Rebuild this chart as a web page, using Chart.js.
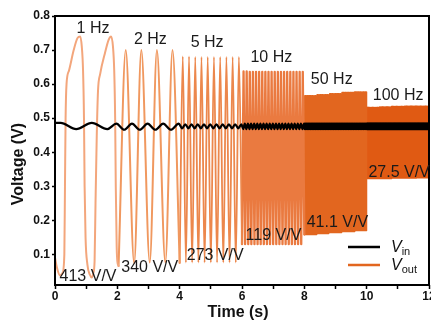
<!DOCTYPE html>
<html><head><meta charset="utf-8">
<script src="https://cdn.jsdelivr.net/npm/chart.js@4.4.1/dist/chart.umd.min.js"></script>
<style>html,body{margin:0;padding:0;background:#fff;}canvas{display:block}</style>
</head><body>
<canvas id="c" width="431" height="324"></canvas>
<script>
// ---------- data ----------
const segStart = [0, 2, 4, 6, 8, 10];
const segEnd   = [2, 4, 6, 8, 10, 12];
const segFreq  = [1, 2, 5, 10, 50, 100];
const freqLabels = ['1 Hz', '2 Hz', '5 Hz', '10 Hz', '50 Hz', '100 Hz'];
const gainLabels = ['413 V/V', '340 V/V', '273 V/V', '119 V/V', '41.1 V/V', '27.5 V/V'];
const xTickValues = [0,1,2,3,4,5,6,7,8,9,10,11,12];
const xTickLabels = ['0','','2','','4','','6','','8','','10','','12'];
const yTickValues = [0.1,0.2,0.3,0.4,0.5,0.6,0.7,0.8];
const yTickLabels = ['0.1','0.2','0.3','0.4','0.5','0.6','0.7','0.8'];

// Vout, 1 Hz section, point by point
const vout1HzTime = [0, 0.06, 0.16, 0.24, 0.3, 0.32, 0.34, 0.37, 0.45, 0.6, 0.72, 0.81, 0.86, 0.9, 0.93, 0.95, 0.98, 1.04, 1.12, 1.18, 1.23, 1.27, 1.3, 1.34, 1.38, 1.45, 1.6, 1.72, 1.8, 1.86, 1.9, 1.93, 1.95, 1.98, 2.0];
const vout1HzVolt = [0.09, 0.062, 0.038, 0.045, 0.1, 0.3, 0.5, 0.6, 0.64, 0.7, 0.735, 0.74, 0.71, 0.64, 0.5, 0.3, 0.15, 0.07, 0.04, 0.032, 0.045, 0.08, 0.25, 0.45, 0.58, 0.63, 0.69, 0.73, 0.74, 0.71, 0.64, 0.5, 0.3, 0.12, 0.08];

// Vout, faster sections: time of first peak / trough and the peak / trough levels
const voutFirstPeak   = [null, 2.27, 4.1, 6.05, 8.01, 10.005];
const voutFirstTrough = [null, 2.04, 4.0, 6.0, 8.0, 10.0];
const vout2HzPeak    = [0.70, 0.70, 0.70, 0.70];
const vout2HzTrough  = [0.066, 0.074, 0.076, 0.076];
const vout5HzPeak    = [0.681, 0.681, 0.68, 0.68, 0.68, 0.68, 0.68, 0.68, 0.68, 0.68];
const vout5HzTrough  = [0.075, 0.076, 0.076, 0.076, 0.076, 0.076, 0.076, 0.076, 0.076, 0.076];
const vout10HzPeak   = [0.637, 0.637, 0.636, 0.636, 0.636, 0.636, 0.636, 0.636, 0.636, 0.636, 0.636, 0.636, 0.636, 0.636, 0.636, 0.636, 0.636, 0.636, 0.636, 0.636];
const vout10HzTrough = [0.13, 0.13, 0.13, 0.13, 0.13, 0.13, 0.13, 0.13, 0.13, 0.13, 0.13, 0.13, 0.13, 0.13, 0.13, 0.13, 0.13, 0.13, 0.13, 0.13];
const vout50HzPeak   = [0.566, 0.569, 0.572, 0.575, 0.577];
const vout50HzTrough = [0.158, 0.161, 0.164, 0.167, 0.170];
const vout100HzPeak  = [0.531, 0.533, 0.534, 0.535, 0.535];
const vout100HzTrough= [0.323, 0.323, 0.324, 0.324, 0.325];

// Vin: start value, time of first peak / trough, peak / trough level per section
const vinStart       = 0.486;
const vinFirstPeak   = [0.18, 1.97, 4.18, 6.09, 8.018, 10.009];
const vinFirstTrough = [0.68, 2.22, 4.08, 6.04, 8.008, 10.004];
const vinPeak        = [0.486, 0.484, 0.482, 0.484, 0.484, 0.484];
const vinTrough      = [0.468, 0.466, 0.470, 0.468, 0.468, 0.468];

// ---------- build library data ----------
const voutPeakLv   = [null, vout2HzPeak, vout5HzPeak, vout10HzPeak, vout50HzPeak, vout100HzPeak];
const voutTroughLv = [null, vout2HzTrough, vout5HzTrough, vout10HzTrough, vout50HzTrough, vout100HzTrough];

function levelAt(levels, t, i) {
  const n = levels.length;
  const k = Math.floor((t - segStart[i]) / (segEnd[i] - segStart[i]) * n);
  return levels[Math.min(Math.max(k, 0), n - 1)];
}
function extremaPoints(i, firstPeak, firstTrough, peakLv, troughLv) {
  const pts = [];
  const per = 1 / segFreq[i];
  for (let k = 0; firstPeak + k * per < segEnd[i] - 1e-9; k++) {
    const t = firstPeak + k * per;
    pts.push({ x: t, y: Array.isArray(peakLv) ? levelAt(peakLv, t, i) : peakLv });
  }
  for (let k = 0; firstTrough + k * per < segEnd[i] - 1e-9; k++) {
    const t = firstTrough + k * per;
    pts.push({ x: t, y: Array.isArray(troughLv) ? levelAt(troughLv, t, i) : troughLv });
  }
  pts.sort((a, b) => a.x - b.x);
  return pts;
}

const voutSegs = [];
voutSegs.push(vout1HzTime.map((t, j) => ({ x: t, y: vout1HzVolt[j] })));
for (let i = 1; i < segFreq.length; i++) {
  voutSegs.push(extremaPoints(i, voutFirstPeak[i], voutFirstTrough[i], voutPeakLv[i], voutTroughLv[i]));
}
// connect each section to the next one
for (let i = 0; i < voutSegs.length - 1; i++) voutSegs[i].push(voutSegs[i + 1][0]);

let vinPts = [{ x: 0, y: vinStart }];
for (let i = 0; i < segFreq.length; i++) {
  vinPts = vinPts.concat(extremaPoints(i, vinFirstPeak[i], vinFirstTrough[i], vinPeak[i], vinTrough[i]));
}
vinPts.sort((a, b) => a.x - b.x);

// ---------- styles ----------
const voutColors = ['#F3A67C', '#F0985F', '#EC874C', '#EA7A40', '#E2661F', '#E05A13'];
const voutWidths = [2, 2, 1.8, 2.3, 1.5, 1.5];
const voutLegendColor = '#E2661F';

const datasets = [{
  label: 'Vin', data: vinPts, borderColor: '#000', borderWidth: 2.2,
  cubicInterpolationMode: 'monotone', pointRadius: 0, order: 0,
  borderJoinStyle: 'round', borderCapStyle: 'round'
}];
voutSegs.forEach((pts, i) => {
  datasets.push({
    label: 'Vout ' + freqLabels[i], data: pts, borderColor: voutColors[i], borderWidth: voutWidths[i],
    cubicInterpolationMode: i < 3 ? 'monotone' : 'default', tension: 0, pointRadius: 0, order: 1,
    borderJoinStyle: 'round', borderCapStyle: 'round'
  });
});

// annotation positions (data coordinates)
const freqLabelPos = [[1.22, 0.762], [3.06, 0.732], [4.88, 0.723], [6.94, 0.679], [8.88, 0.612], [11.01, 0.565]];
const gainLabelPos = [[1.06, 0.036], [3.04, 0.062], [5.14, 0.097], [7.01, 0.156], [9.06, 0.194], [11.04, 0.341]];

const FONT = "'Liberation Sans', Arial, sans-serif";

const decorPlugin = {
  id: 'decor',
  afterDatasetsDraw(chart) {
    const { ctx, chartArea: a, scales: { x, y } } = chart;
    ctx.save();
    // frame
    ctx.strokeStyle = '#000'; ctx.lineWidth = 2;
    ctx.strokeRect(a.left, a.top, a.right - a.left, a.bottom - a.top);
    // annotations
    ctx.fillStyle = '#1a1a1a';
    ctx.font = '16px ' + FONT;
    ctx.textAlign = 'center'; ctx.textBaseline = 'middle';
    freqLabels.forEach((s, i) => ctx.fillText(s, x.getPixelForValue(freqLabelPos[i][0]), y.getPixelForValue(freqLabelPos[i][1])));
    gainLabels.forEach((s, i) => ctx.fillText(s, x.getPixelForValue(gainLabelPos[i][0]), y.getPixelForValue(gainLabelPos[i][1])));
    // axis titles
    ctx.fillStyle = '#111';
    ctx.font = 'bold 16px ' + FONT;
    ctx.fillText('Time (s)', 238, 313);
    ctx.save();
    ctx.translate(19, 164); ctx.rotate(-Math.PI / 2);
    ctx.fillText('Voltage (V)', 0, 0);
    ctx.restore();
    // legend
    const lx0 = 348, lx1 = 380;
    [['#000', 247, 'in'], [voutLegendColor, 265, 'out']].forEach(([c, ly, sub]) => {
      ctx.strokeStyle = c; ctx.lineWidth = 2.5;
      ctx.beginPath(); ctx.moveTo(lx0, ly); ctx.lineTo(lx1, ly); ctx.stroke();
      ctx.fillStyle = '#111'; ctx.textAlign = 'left'; ctx.textBaseline = 'alphabetic';
      ctx.font = 'italic 16px ' + FONT;
      ctx.fillText('V', 391, ly + 5);
      const w = ctx.measureText('V').width;
      ctx.font = '11px ' + FONT;
      ctx.fillText(sub, 391 + w, ly + 8);
    });
    ctx.restore();
  }
};

new Chart(document.getElementById('c'), {
  type: 'line',
  data: { datasets },
  options: {
    responsive: false, animation: false, devicePixelRatio: 1,
    parsing: true, normalized: true,
    layout: { padding: { left: 0, right: 2, top: 16, bottom: 0 } },
    plugins: { legend: { display: false }, tooltip: { enabled: false } },
    scales: {
      x: {
        type: 'linear', min: 0, max: 12,
        afterBuildTicks: s => { s.ticks = xTickValues.map(v => ({ value: v })); },
        afterFit: s => { s.height = 39; s.paddingRight = 0; s.paddingLeft = 0; },
        ticks: { autoSkip: false, maxRotation: 0, padding: 0, color: '#111',
          font: { family: FONT, size: 12, weight: 'bold' },
          callback: (v, i) => xTickLabels[i] },
        grid: { drawOnChartArea: false, drawTicks: true, tickLength: 4, tickColor: '#000', tickWidth: 1.5 },
        border: { display: false }
      },
      y: {
        type: 'linear', min: 0.01, max: 0.8,
        afterBuildTicks: s => { s.ticks = yTickValues.map(v => ({ value: v })); },
        afterFit: s => { s.width = 55; s.paddingTop = 0; s.paddingBottom = 0; },
        ticks: { padding: 2, color: '#111',
          font: { family: FONT, size: 12, weight: 'bold' },
          callback: (v, i) => yTickLabels[i] },
        grid: { drawOnChartArea: false, drawTicks: true, tickLength: 3, tickColor: '#000', tickWidth: 1.5 },
        border: { display: false }
      }
    }
  },
  plugins: [decorPlugin]
});
</script>
</body></html>
